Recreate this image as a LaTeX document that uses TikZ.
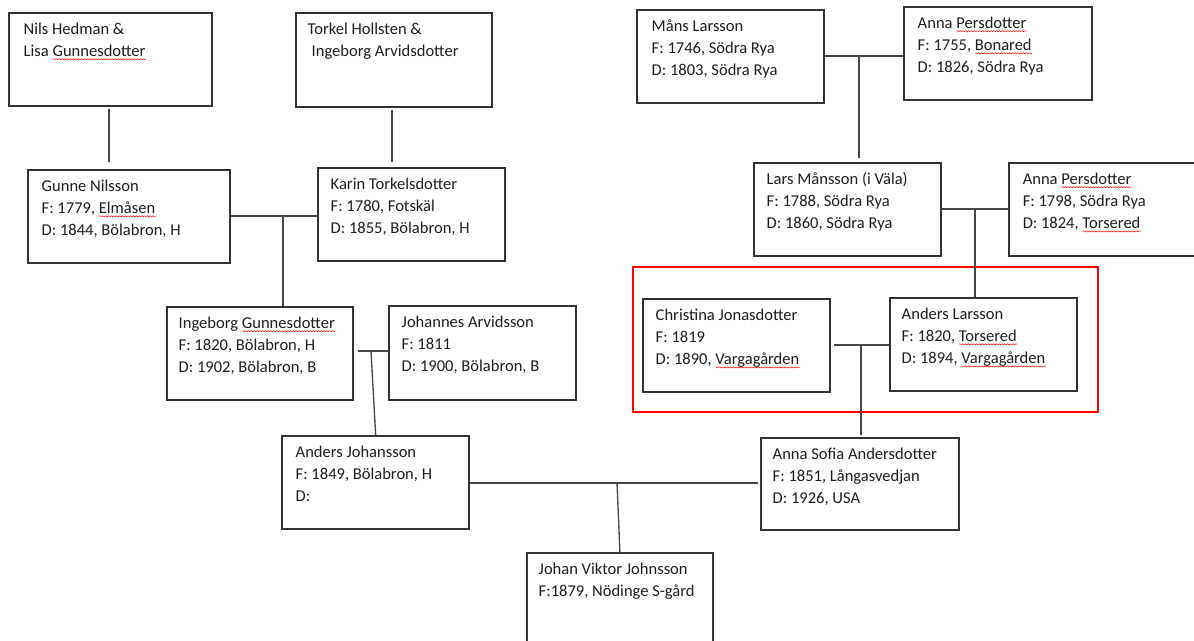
\documentclass[tikz,border=0pt]{standalone}
\usepackage{fontspec}
\setmainfont{Carlito}
\usetikzlibrary{fit,decorations.pathmorphing}
\newlength\sqlen
\newcommand\sq[1]{\settowidth{\sqlen}{#1}\leavevmode\rlap{\raisebox{-2.2pt}{\tikz[baseline=0pt]\draw[red, line width=0.35pt, decorate, decoration={snake, amplitude=0.45pt, segment length=2.1pt}] (0pt,0pt) -- (\sqlen,0pt);}}#1}
\newcommand\fl{\rule{0pt}{12pt}}
\tikzset{
  box/.style={draw=black!80, line width=0.8pt, inner sep=0pt},
  redbox/.style={draw=red, line width=0.8pt, inner sep=0pt},
  txt/.style={anchor=north west, inner sep=0pt, align=left, text=black!88,
    font=\fontsize{12.4}{16.6}\selectfont},
  conn/.style={draw=black!72, line width=1pt},
}
\begin{document}
\begin{tikzpicture}[x=0.75pt, y=-0.75pt]
\useasboundingbox[fill=white] (0,0) rectangle (1194,641);
% left family
\node[box, fit={(9,13) (212,106)}] (nils) {};
\node[txt] (nilsT) at ([shift={(15,5.5)}]nils.north west) {\fl Nils Hedman \&\\ Lisa \sq{Gunnesdotter}};
\node[box, fit={(296,13) (492,107)}] (torkel) {};
\node[txt] (torkelT) at ([shift={(12,5.5)}]torkel.north west) {\fl Torkel Hollsten \&\\ \hspace*{3pt}Ingeborg Arvidsdotter};
\node[box, fit={(28,170) (230,263)}] (gunne) {};
\node[txt] (gunneT) at ([shift={(14,5.5)}]gunne.north west) {\fl Gunne Nilsson\\ F: 1779, \sq{Elmåsen}\\ D: 1844, Bölabron, H};
\node[box, fit={(318,168) (505,261)}] (karin) {};
\node[txt] (karinT) at ([shift={(13,5.5)}]karin.north west) {\fl Karin Torkelsdotter\\ F: 1780, Fotskäl\\ D: 1855, Bölabron, H};
\node[box, fit={(167,307) (353,400)}] (ingeborg) {};
\node[txt] (ingeborgT) at ([shift={(12,5.5)}]ingeborg.north west) {\fl Ingeborg \sq{Gunnesdotter}\\ F: 1820, Bölabron, H\\ D: 1902, Bölabron, B};
\node[box, fit={(389,306) (576,400)}] (johannes) {};
\node[txt] (johannesT) at ([shift={(13,5.5)}]johannes.north west) {\fl Johannes Arvidsson\\ F: 1811\\ D: 1900, Bölabron, B};
\node[box, fit={(282,436) (469,529)}] (andersJ) {};
\node[txt] (andersJT) at ([shift={(14,5.5)}]andersJ.north west) {\fl Anders Johansson\\ F: 1849, Bölabron, H\\ D:};
\node[box, fit={(527,553) (713,660)}] (johanV) {};
\node[txt] (johanVT) at ([shift={(12,5.5)}]johanV.north west) {\fl Johan Viktor Johnsson\\ F:1879, Nödinge S-gård};
% right family
\node[box, fit={(637,10) (824,103)}] (mans) {};
\node[txt] (mansT) at ([shift={(15,5.5)}]mans.north west) {\fl Måns Larsson\\ F: 1746, Södra Rya\\ D: 1803, Södra Rya};
\node[box, fit={(904,7) (1092,100)}] (annaA) {};
\node[txt] (annaAT) at ([shift={(14,5.5)}]annaA.north west) {\fl Anna \sq{Persdotter}\\ F: 1755, \sq{Bonared}\\ D: 1826, Södra Rya};
\node[box, fit={(754,163) (941,256)}] (lars) {};
\node[txt] (larsT) at ([shift={(13,5.5)}]lars.north west) {\fl Lars Månsson (i Väla)\\ F: 1788, Södra Rya\\ D: 1860, Södra Rya};
\node[box, fit={(1009,163) (1205,256)}] (annaB) {};
\node[txt] (annaBT) at ([shift={(14,5.5)}]annaB.north west) {\fl Anna \sq{Persdotter}\\ F: 1798, Södra Rya\\ D: 1824, \sq{Torsered}};
\node[redbox, fit={(633,267) (1098,412)}] (frame) {};
\node[box, fit={(643,299) (830,392)}] (christina) {};
\node[txt] (christinaT) at ([shift={(13,5.5)}]christina.north west) {\fl Christina Jonasdotter\\ F: 1819\\ D: 1890, \sq{Vargagården}};
\node[box, fit={(890,298) (1077,391)}] (andersL) {};
\node[txt] (andersLT) at ([shift={(12,5.5)}]andersL.north west) {\fl Anders Larsson\\ F: 1820, \sq{Torsered}\\ D: 1894, \sq{Vargagården}};
\node[box, fit={(761,438) (959,530)}] (annaS) {};
\node[txt] (annaST) at ([shift={(12,5.5)}]annaS.north west) {\fl Anna Sofia Andersdotter\\ F: 1851, Långasvedjan\\ D: 1926, USA};
% connectors
\coordinate (d1) at (109,162);
\coordinate (d2) at (392,162);
\coordinate (m1) at (283,216);
\coordinate (m2) at (371,351);
\coordinate (m3) at (859,56);
\coordinate (m4) at (975,209);
\coordinate (m5) at (861,345);
\coordinate (m6) at (617,483);
\draw[conn, shorten <=2pt] (d1 |- nils.south) -- (d1);
\draw[conn, shorten <=1.5pt] (d2 |- torkel.south) -- (d2);
\draw[conn] (gunne.east |- m1) -- (karin.west |- m1);
\draw[conn] (m1) -- (m1 |- ingeborg.north);
\draw[conn, shorten <=3pt] (ingeborg.east |- m2) -- (johannes.west |- m2);
\draw[conn] (m2) -- ([xshift=3.5pt]m2 |- andersJ.north);
\draw[conn] (mans.east |- m3) -- (annaA.west |- m3);
\draw[conn, shorten >=3.5pt] (m3) -- (m3 |- lars.north);
\draw[conn] (lars.east |- m4) -- (annaB.west |- m4);
\draw[conn] (m4) -- (m4 |- andersL.north);
\draw[conn, shorten <=2.5pt] (christina.east |- m5) -- (andersL.west |- m5);
\draw[conn, shorten >=2pt] (m5) -- (m5 |- annaS.north);
\draw[conn, shorten >=2pt] (andersJ.east |- m6) -- (annaS.west |- m6);
\draw[conn] (m6) -- ([xshift=2.2pt]m6 |- johanV.north);
\end{tikzpicture}
\end{document}
